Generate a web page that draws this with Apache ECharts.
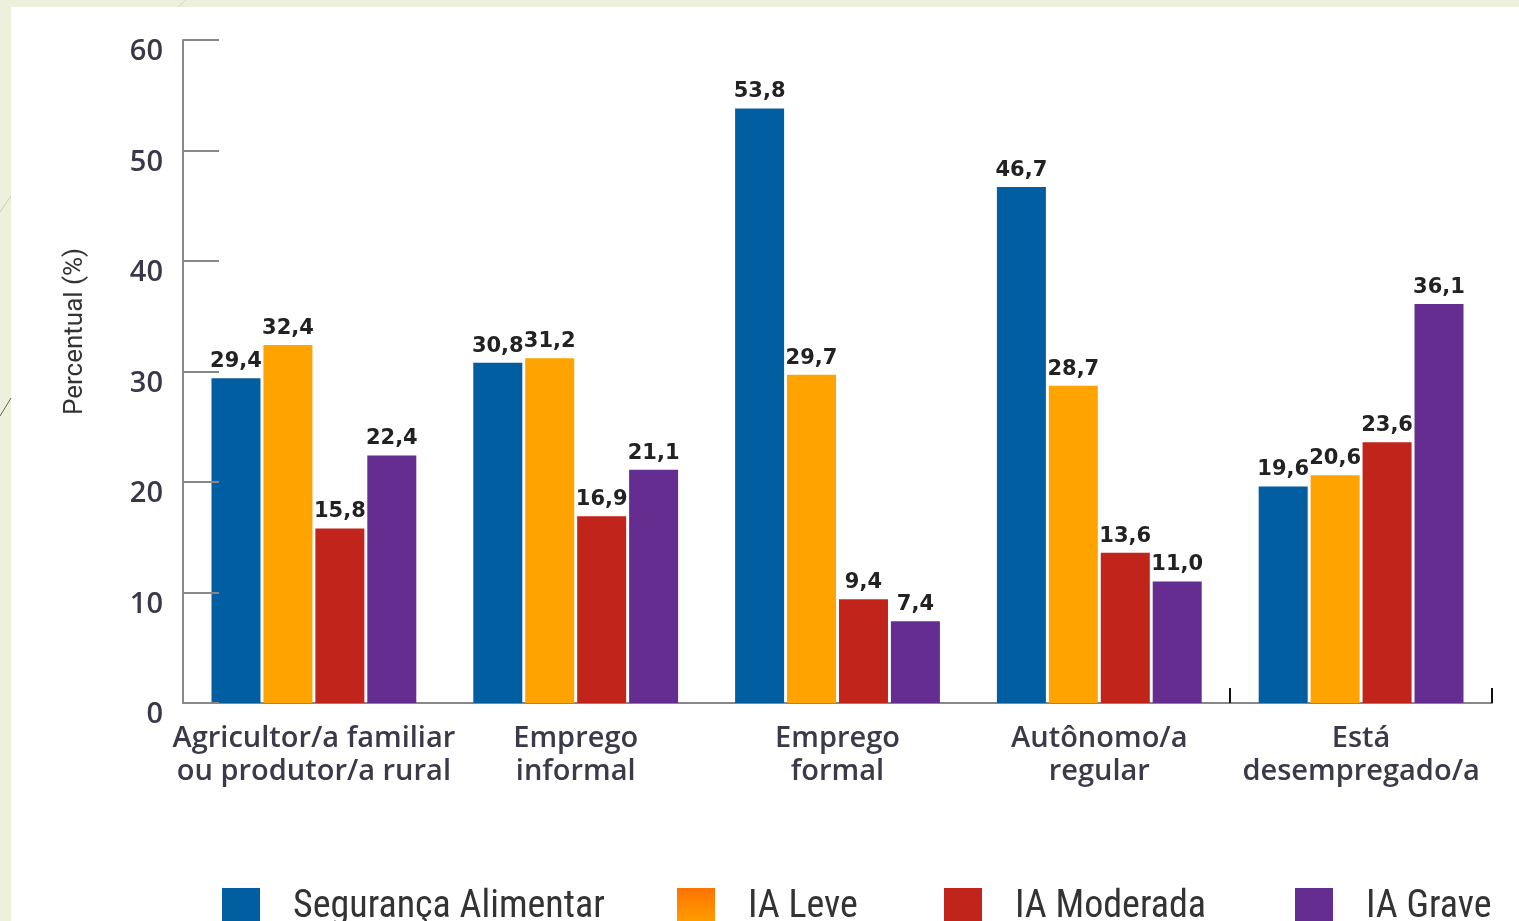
<!DOCTYPE html>
<html>
<head>
<meta charset="utf-8">
<title>Segurança alimentar por ocupação</title>
<script src="https://cdn.jsdelivr.net/npm/echarts@6.0.0/dist/echarts.min.js"></script>
<style>
  html, body {
    margin: 0;
    padding: 0;
    background: #edf0dc;
  }
  #chart {
    width: 1519px;
    height: 921px;
  }
</style>
</head>
<body>
<div id="chart"></div>
<script>
  // dados
  var categorias = ['Agricultor/a familiar\nou produtor/a rural', 'Emprego\ninformal', 'Emprego\nformal', 'Autônomo/a\nregular', 'Está\ndesempregado/a'];
  var segurancaAlimentar = [29.4, 30.8, 53.8, 46.7, 19.6];
  var iaLeve = [32.4, 31.2, 29.7, 28.7, 20.6];
  var iaModerada = [15.8, 16.9, 9.4, 13.6, 23.6];
  var iaGrave = [22.4, 21.1, 7.4, 11.0, 36.1];
  var nomes = ['Segurança Alimentar', 'IA Leve', 'IA Moderada', 'IA Grave'];
  var cores = ['#005ea1', '#ffa300', '#c1241a', '#652d8f'];
  var valores = [segurancaAlimentar, iaLeve, iaModerada, iaGrave];

  var fonteLarga = 'DejaVu Sans';
  var myChart = echarts.init(document.getElementById('chart'));

  // posição de cada item da legenda (como no original)
  var legendaX = [222, 677, 944, 1295];
  var legendas = nomes.map(function (nome, i) {
    var item = {name: nome};
    if (i === 1) {
      item.itemStyle = {
        color: new echarts.graphic.LinearGradient(0, 0, 0, 1, [
          {offset: 0, color: '#ff7200'},
          {offset: 1, color: '#ffa300'}
        ])
      };
    }
    return {
      data: [item],
      left: legendaX[i],
      top: 888,
      padding: 0,
      itemWidth: 38,
      itemHeight: 38,
      icon: 'rect',
      selectedMode: false,
      textStyle: {
        fontFamily: '"Liberation Sans Narrow", "Roboto Condensed", Roboto',
        fontSize: 38,
        color: '#333',
        padding: [0, 0, 6, 28]
      }
    };
  });

  var option = {
    backgroundColor: '#edf0dc',
    animation: false,
    graphic: [
      {type: 'rect', shape: {x: 11, y: 7, width: 1508, height: 914}, style: {fill: '#fff'}, z: -10},
      {type: 'line', shape: {x1: 186, y1: 0, x2: 178, y2: 7}, style: {stroke: '#d4d8c4', lineWidth: 1}, z: -10},
      {type: 'line', shape: {x1: 11, y1: 196, x2: 0, y2: 212}, style: {stroke: '#c8ccb8', lineWidth: 1}, z: -10},
      {type: 'line', shape: {x1: 11, y1: 398, x2: 0, y2: 416}, style: {stroke: '#6b6455', lineWidth: 1}, z: -10}
    ],
    legend: legendas,
    grid: {
      left: 183,
      right: 27,
      top: 40,
      bottom: 218,
      containLabel: false
    },
    xAxis: [
      {
        type: 'category',
        data: categorias,
        axisLine: {
          lineStyle: {color: '#888', width: 2}
        },
        axisTick: {show: false},
        axisLabel: {
          interval: 0,
          margin: 19,
          fontFamily: '"Open Sans"',
          fontWeight: 600,
          fontSize: 29,
          lineHeight: 33,
          color: '#3a3a48'
        }
      },
      {
        // só para os dois tracinhos à direita do eixo
        type: 'value',
        position: 'bottom',
        min: 0,
        max: 5,
        interval: 4,
        z: 0,
        axisLine: {show: false},
        axisLabel: {show: false},
        splitLine: {show: false},
        axisTick: {
          show: true,
          inside: true,
          length: 15,
          lineStyle: {color: '#111', width: 2}
        }
      }
    ],
    yAxis: {
      type: 'value',
      min: 0,
      max: 60,
      interval: 10,
      z: 5,
      name: 'Percentual (%)',
      nameLocation: 'middle',
      nameGap: 95,
      nameTextStyle: {
        fontFamily: 'Roboto',
        fontSize: 26,
        color: '#333',
        padding: [0, 0, 0, 80]
      },
      axisLine: {
        show: true,
        lineStyle: {color: '#888', width: 2}
      },
      axisTick: {
        show: true,
        inside: true,
        length: 36,
        lineStyle: {color: '#888', width: 2}
      },
      splitLine: {show: false},
      axisLabel: {
        margin: 20,
        fontFamily: '"Open Sans"',
        fontWeight: 600,
        fontSize: 29,
        color: '#383848',
        verticalAlign: 'top',
        lineHeight: 24
      }
    },
    series: []
  };

  valores.forEach(function (dados, i) {
    option.series.push({
      name: nomes[i],
      type: 'bar',
      data: dados,
      barWidth: 49,
      barGap: '6%',
      itemStyle: {color: cores[i]},
      label: {
        show: true,
        position: 'top',
        distance: 6,
        fontFamily: fonteLarga,
        fontWeight: 'bold',
        fontSize: 21,
        color: '#222',
        formatter: function (p) {
          return p.value.toFixed(1).replace('.', ',');
        }
      }
    });
  });

  myChart.setOption(option);
</script>
</body>
</html>
